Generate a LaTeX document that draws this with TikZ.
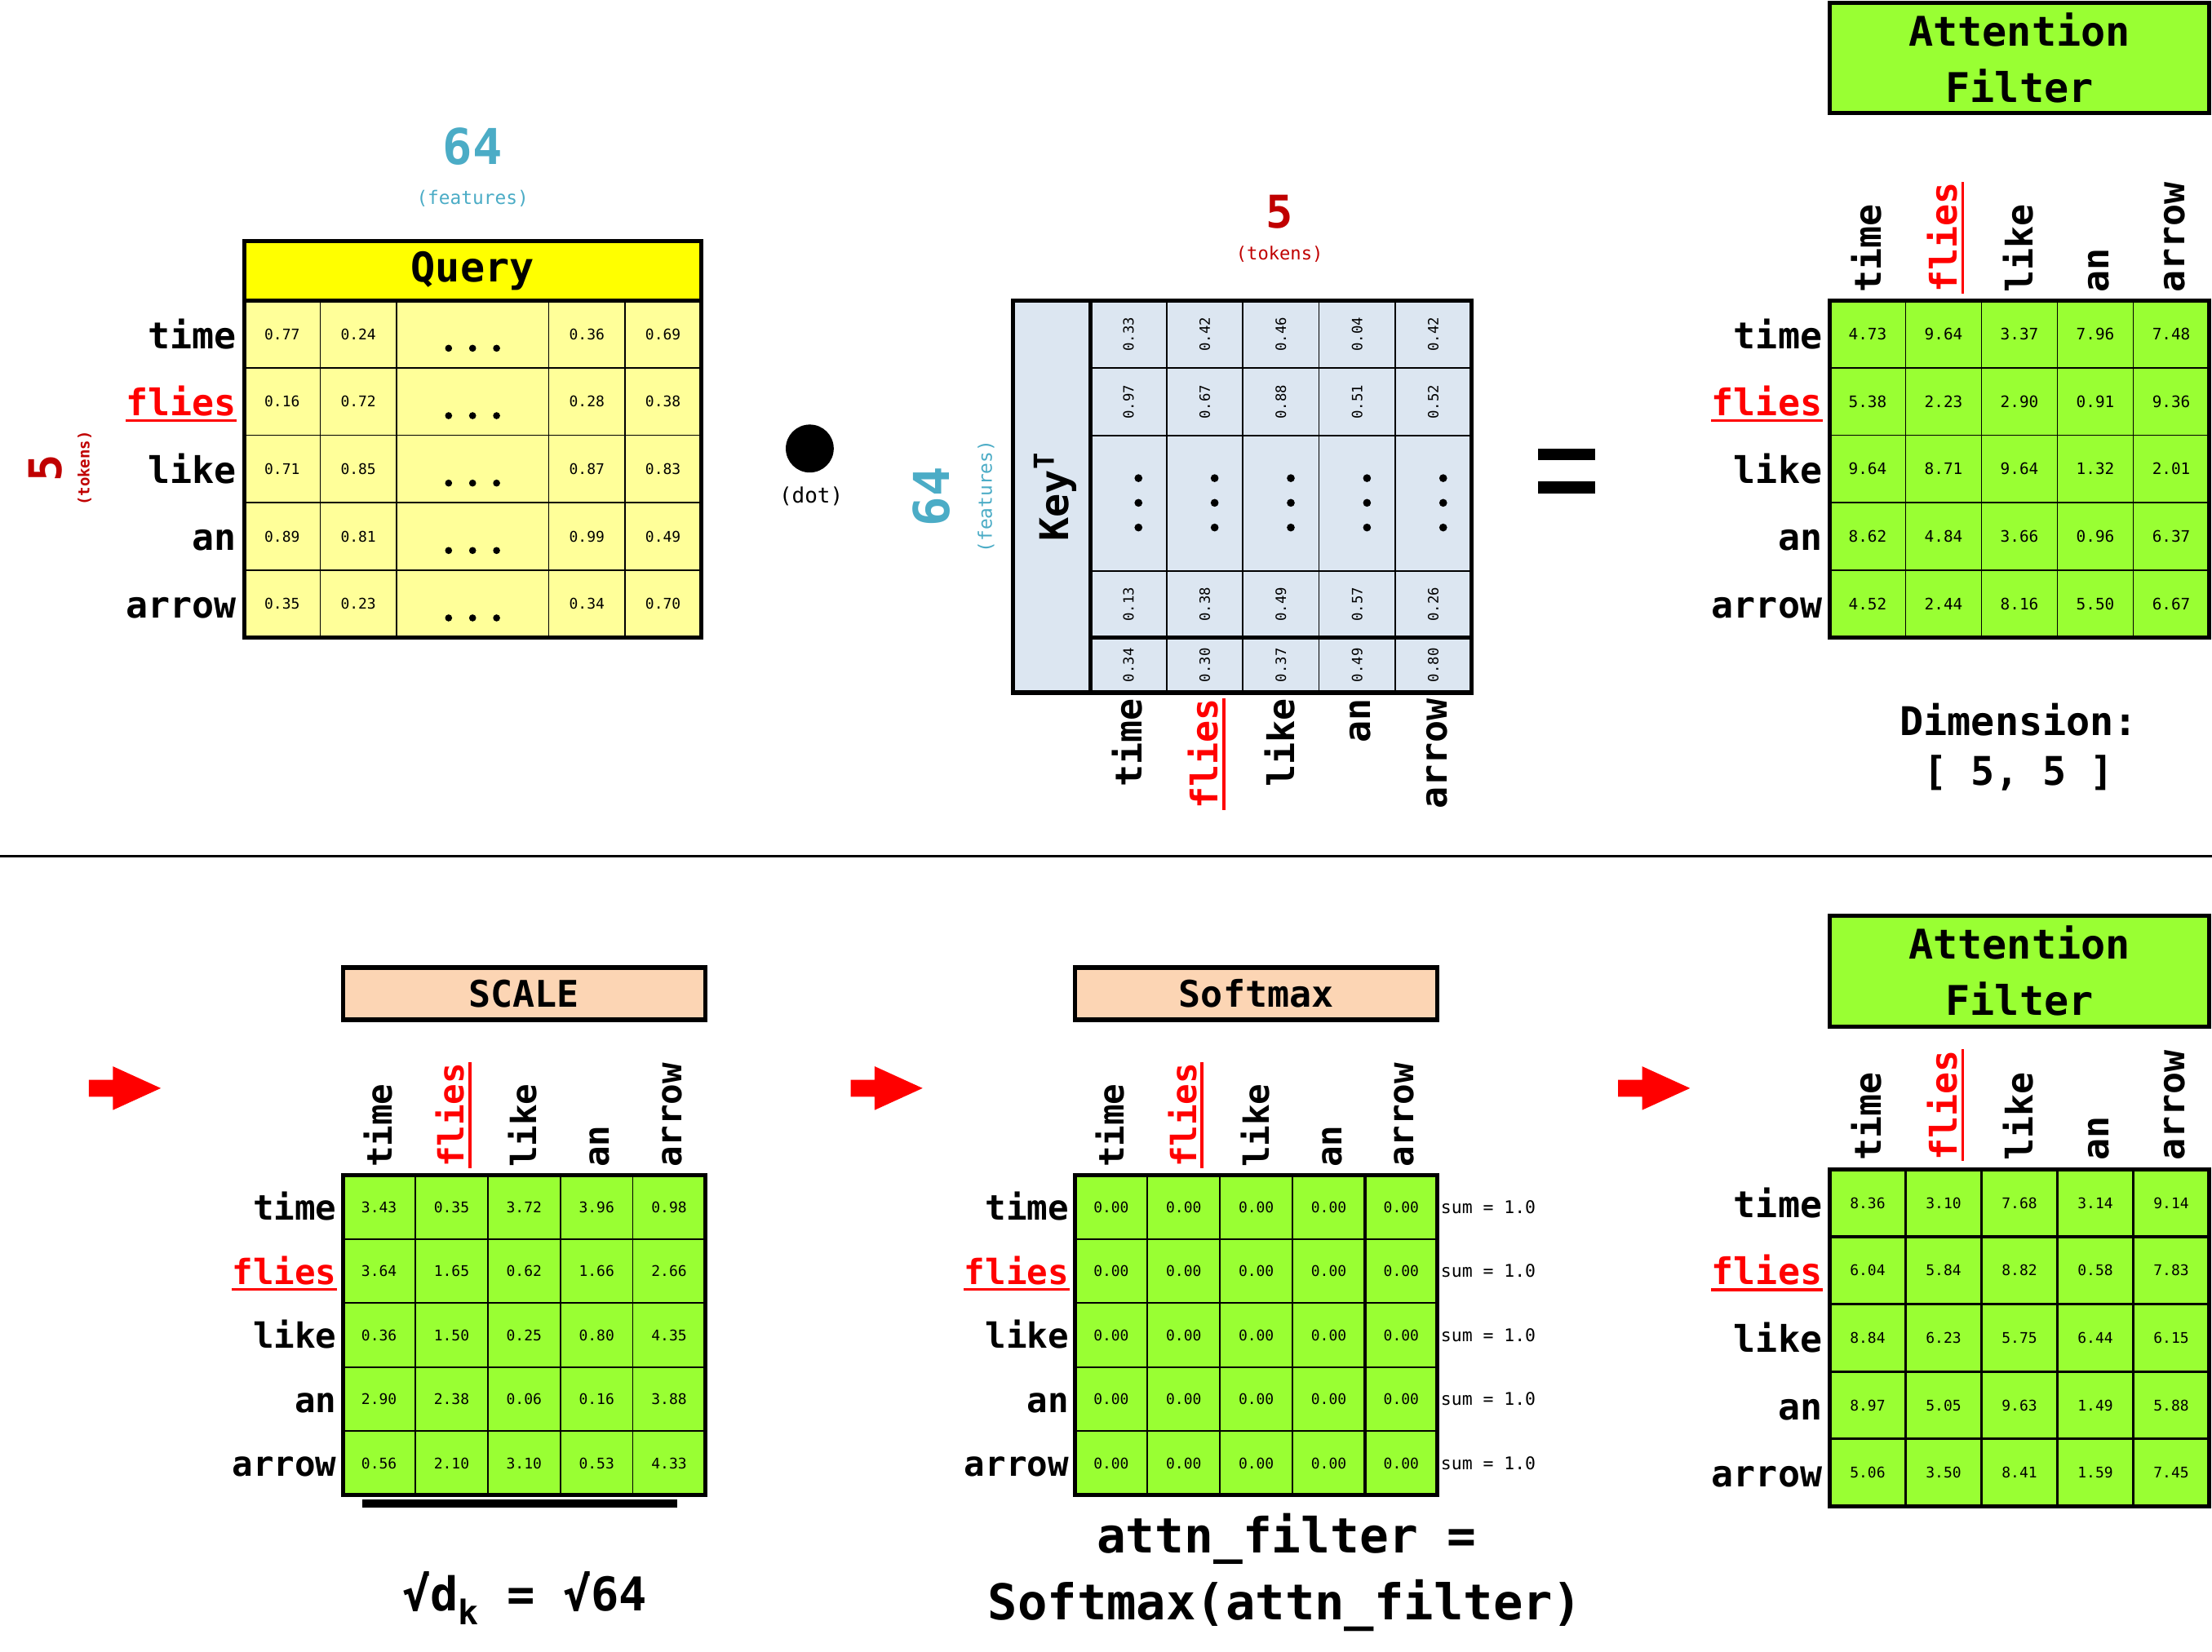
\documentclass[tikz,border=0pt]{standalone}
\usepackage{fontspec}
\setmainfont{DejaVu Sans Mono}
\usetikzlibrary{calc}
\definecolor{qyellow}{HTML}{FFFF00}
\definecolor{qcell}{HTML}{FFFF99}
\definecolor{kblue}{HTML}{DCE6F1}
\definecolor{agreen}{HTML}{99FF33}
\definecolor{peach}{HTML}{FCD5B4}
\definecolor{featblue}{HTML}{4BACC6}
\definecolor{tokred}{HTML}{C00000}
\newcommand\fsz[1]{\fontsize{#1pt}{#1pt}\selectfont}
\newcommand\fszl[2]{\fontsize{#1pt}{#2pt}\selectfont}
\tikzset{
  box/.style={draw, line width=1.5pt, inner sep=0pt, outer sep=0pt},
  cellbox/.style={draw, inner sep=0pt, outer sep=0pt},
  qcellst/.style={cellbox, fill=qcell, line width=0.5pt, minimum width=27pt, minimum height=23.9pt, font=\fsz{5.2}},
  kval/.style={rotate=90, inner sep=0pt, font=\fsz{5}},
  uline/.style={red, line width=1pt},
}
% #1 name, #2 x0, #3 y0, #4 cell w, #5 cell h, #6 fill, #7 inner line width, #8 font size, #9 values
\newcommand\gridtable[9]{%
  \foreach \rw [count=\ri] in {#9} {
    \foreach \vv [count=\ci] in \rw {
      \node[cellbox, fill=#6, line width=#7, minimum width=#4*0.5pt, minimum height=#5*0.5pt, font=\fsz{#8}]
        (#1-\ri-\ci) at ({#2+(\ci-0.5)*#4},{#3+(\ri-0.5)*#5}) {\vv};
    }
  }
  \draw[line width=1.5pt] (#2,#3) rectangle ++({5*#4},{5*#5});
}
% #1 name, #2 right x, #3 first row centre y, #4 row step, #5 font size
\newcommand\rowlabels[5]{%
  \foreach \lbl/\cl [count=\ii] in {time/black,flies/red,like/black,an/black,arrow/black} {
    \node[anchor=base east, inner sep=0pt, font=\fsz{#5}\bfseries, text=\cl]
      (#1-\ii) at (#2,{#3+(\ii-1)*#4+0.77*#5}) {\lbl};
  }
  \draw[uline] ([yshift=-1.75pt]#1-2.base west) -- ([yshift=-1.75pt]#1-2.base east);
}
% #1 name, #2 first col centre x, #3 col step, #4 y, #5 font size, #6 anchor
\newcommand\collabels[6]{%
  \foreach \lbl/\cl [count=\ii] in {time/black,flies/red,like/black,an/black,arrow/black} {
    \node[rotate=90, anchor=#6, inner sep=0pt, font=\fsz{#5}\bfseries, text=\cl]
      (#1-\ii) at ({#2+(\ii-1)*#3+0.73*#5},#4) {\lbl};
  }
  \draw[uline] ([xshift=2pt]#1-2.base west) -- ([xshift=2pt]#1-2.base east);
}
\begin{document}
\begin{tikzpicture}[x=0.5pt,y=-0.5pt]
\useasboundingbox (0,0) rectangle (1568,1171);
\fill[white] (0,0) rectangle (1568,1171);

% ---------------- Query ----------------
\node[text=featblue, font=\fsz{17.5}\bfseries] (q64) at (335,104) {64};
\node[text=featblue, font=\fsz{6.6}] (qfeat) at (335,141) {(features)};
\node[box, fill=qyellow, minimum width=162pt, minimum height=21pt, font=\fsz{14.5}\bfseries] (qhead) at (335,192) {Query};
\foreach \qa/\qb/\qc/\qd [count=\ri] in {0.77/0.24/0.36/0.69,0.16/0.72/0.28/0.38,0.71/0.85/0.87/0.83,0.89/0.81/0.99/0.49,0.35/0.23/0.34/0.70} {
  \pgfmathsetmacro\yy{213+(\ri-0.5)*47.8}
  \node[qcellst] (q-\ri-1) at (200,\yy) {\qa};
  \node[qcellst] (q-\ri-2) at (254,\yy) {\qb};
  \node[qcellst, minimum width=54pt] (q-\ri-3) at (335,\yy) {};
  \node[qcellst] (q-\ri-4) at (416,\yy) {\qc};
  \node[qcellst] (q-\ri-5) at (470,\yy) {\qd};
  \foreach \dx in {-17,0,17} \fill ({335+\dx},{\yy+10}) circle (1.25pt);
}
\draw[line width=1.5pt] (173,213) rectangle (497,452);
\rowlabels{ql}{168}{237}{47.8}{13}
\node[rotate=90, text=tokred, font=\fsz{16}\bfseries] (qfive) at (32,332) {5};
\node[rotate=90, text=tokred, font=\fsz{5.5}\bfseries] (qtok) at (60,332) {(tokens)};

% ---------------- dot ----------------
\node[circle, fill=black, minimum size=17pt, inner sep=0pt] (dot) at (574,318) {};
\node[font=\fsz{7.5}] (dotlbl) at (575,352) {(dot)};

% ---------------- Key^T ----------------
\node[rotate=90, text=featblue, font=\fsz{17.5}\bfseries] (k64) at (660,352) {64};
\node[rotate=90, text=featblue, font=\fsz{6.6}] (kfeat) at (699,352) {(features)};
\node[text=tokred, font=\fsz{16}\bfseries] (kfive) at (907,150) {5};
\node[text=tokred, font=\fsz{6.4}] (ktok) at (907,180) {(tokens)};
\fill[kblue] (718,213) rectangle (1043,491);
\foreach \xx in {827,881,935,989} \draw[line width=0.5pt] (\xx,213) -- (\xx,491);
\foreach \yy in {261,309,405} \draw[line width=0.5pt] (773,\yy) -- (1043,\yy);
\draw[line width=1.2pt] (773,452) -- (1043,452);
\draw[line width=1.2pt] (773,213) -- (773,491);
\draw[line width=1.5pt] (718,213) rectangle (1043,491);
\node[rotate=90, font=\fsz{14}\bfseries] (khead) at (748,352) {Key\textsuperscript{T}};
\foreach \ka/\kb/\kc/\kd [count=\ci] in {0.33/0.97/0.13/0.34,0.42/0.67/0.38/0.30,0.46/0.88/0.49/0.37,0.04/0.51/0.57/0.49,0.42/0.52/0.26/0.80} {
  \pgfmathsetmacro\xx{800+(\ci-1)*54}
  \node[kval] (k-1-\ci) at (\xx,237) {\ka};
  \node[kval] (k-2-\ci) at (\xx,285) {\kb};
  \node[kval] (k-4-\ci) at (\xx,428.5) {\kc};
  \node[kval] (k-5-\ci) at (\xx,471.5) {\kd};
  \foreach \dy in {339,356.5,374} \fill ({\xx+7},\dy) circle (1.4pt);
}
\collabels{kc}{800}{54}{495}{13}{base east}

% ---------------- equals ----------------
\fill (1090,318) rectangle (1131,326);
\fill (1090,341) rectangle (1131,350);

% ---------------- Attention filter (top) ----------------
\node[box, fill=agreen, minimum width=134.5pt, minimum height=39pt, align=center, font=\fszl{14.5}{20}\bfseries] (ahead) at (1431.5,41) {Attention\\Filter};
\gridtable{at}{1297}{213}{53.8}{47.8}{agreen}{0.5pt}{5.6}{{4.73,9.64,3.37,7.96,7.48},{5.38,2.23,2.90,0.91,9.36},{9.64,8.71,9.64,1.32,2.01},{8.62,4.84,3.66,0.96,6.37},{4.52,2.44,8.16,5.50,6.67}}
\rowlabels{atr}{1292}{237}{47.8}{13}
\collabels{atc}{1324}{53.8}{208}{13}{base west}
\node[font=\fsz{14}\bfseries] (dimA) at (1431,510) {Dimension:};
\node[font=\fsz{14}\bfseries] (dimB) at (1431,548) {[ 5, 5 ]};

% ---------------- separator ----------------
\draw[line width=0.75pt] (0,607) -- (1568,607);

% ---------------- arrows ----------------
\foreach \ax in {63,603,1147}
  \fill[red] (\ax,765.5) -- ++(17,0) -- ++(0,-9.5) -- ++(34,15.5) -- ++(-34,15.5) -- ++(0,-9.5) -- ++(-17,0) -- cycle;

% ---------------- SCALE ----------------
\node[box, fill=peach, minimum width=128.5pt, minimum height=18.5pt, font=\fsz{13}\bfseries] (schead) at (371.5,704.5) {SCALE};
\gridtable{sc}{243}{833}{51.4}{45.4}{agreen}{0.5pt}{5.2}{{3.43,0.35,3.72,3.96,0.98},{3.64,1.65,0.62,1.66,2.66},{0.36,1.50,0.25,0.80,4.35},{2.90,2.38,0.06,0.16,3.88},{0.56,2.10,3.10,0.53,4.33}}
\rowlabels{scr}{239}{855.7}{45.4}{12.3}
\collabels{scc}{268.7}{51.4}{828}{12.3}{base west}
\fill (257,1063) rectangle (480,1069);
\node[font=\fsz{16.5}\bfseries] (sqrtd) at (372,1133) {√d\raisebox{-0.3em}{\fsz{12}k} = √64};

% ---------------- Softmax ----------------
\node[box, fill=peach, minimum width=128.5pt, minimum height=18.5pt, font=\fsz{13}\bfseries] (smhead) at (890.5,704.5) {Softmax};
\gridtable{sm}{762}{833}{51.4}{45.4}{agreen}{0.5pt}{5.2}{{0.00,0.00,0.00,0.00,0.00},{0.00,0.00,0.00,0.00,0.00},{0.00,0.00,0.00,0.00,0.00},{0.00,0.00,0.00,0.00,0.00},{0.00,0.00,0.00,0.00,0.00}}
\draw[line width=0.9pt] (967.6,833) -- (967.6,1060);
\rowlabels{smr}{758}{855.7}{45.4}{12.3}
\collabels{smc}{787.7}{51.4}{828}{12.3}{base west}
\foreach \ii in {1,...,5}
  \node[anchor=west, inner sep=0pt, font=\fsz{6.2}] (sum\ii) at (1021,{855.7+(\ii-1)*45.4}) {sum = 1.0};
\node[font=\fsz{17.2}\bfseries] (eqA) at (912,1091) {attn\_filter =};
\node[font=\fsz{17.5}\bfseries] (eqB) at (911,1138) {Softmax(attn\_filter)};

% ---------------- Attention filter (bottom) ----------------
\node[box, fill=agreen, minimum width=134.5pt, minimum height=39.5pt, align=center, font=\fszl{14.5}{20}\bfseries] (bhead) at (1431.5,688.5) {Attention\\Filter};
\gridtable{bt}{1297}{829}{53.8}{47.8}{agreen}{0.9pt}{5.2}{{8.36,3.10,7.68,3.14,9.14},{6.04,5.84,8.82,0.58,7.83},{8.84,6.23,5.75,6.44,6.15},{8.97,5.05,9.63,1.49,5.88},{5.06,3.50,8.41,1.59,7.45}}
\rowlabels{btr}{1292}{853}{47.8}{13}
\collabels{btc}{1324}{53.8}{823}{13}{base west}
\end{tikzpicture}
\end{document}
